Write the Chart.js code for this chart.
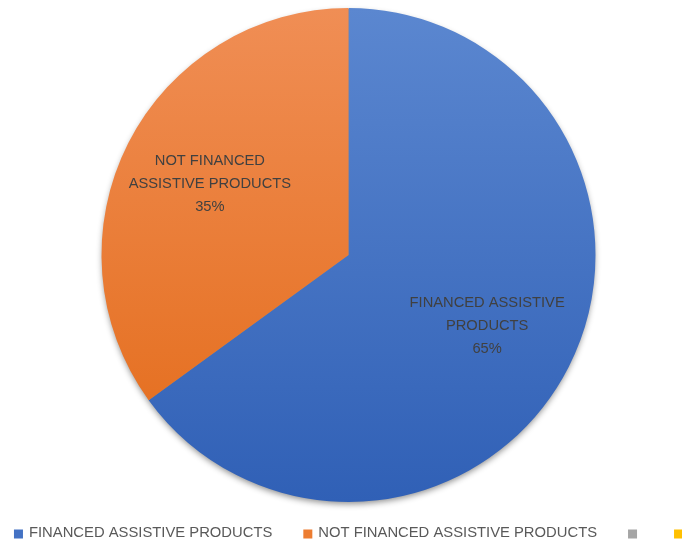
<!DOCTYPE html>
<html>
<head>
<meta charset="utf-8">
<script src="https://cdn.jsdelivr.net/npm/chart.js@4.4.1/dist/chart.umd.min.js"></script>
<style>
    html, body { margin: 0; padding: 0; background: #fff; }
    #wrap { width: 682px; height: 543px; }
</style>
</head>
<body>
<div id="wrap"><canvas id="pieChart1"></canvas></div>
<script>
var labels_products = ['FINANCED ASSISTIVE PRODUCTS', 'NOT FINANCED ASSISTIVE PRODUCTS', '', ''];
var data_products = [65, 35, 0, 0];
var slice_labels = [['FINANCED ASSISTIVE', 'PRODUCTS'], ['NOT FINANCED', 'ASSISTIVE PRODUCTS'], [], []];
var colors_top = ['#5b87d0', '#f08e55', '#b0b0b0', '#ffc51a'];
var colors_bottom = ['#3060b6', '#e36a17', '#9a9a9a', '#f5b800'];
var colors_legend = ['#4472c4', '#ed7d31', '#a5a5a5', '#ffc000'];

var fontFamily = "'Liberation Sans', Arial, sans-serif";

function sliceGradient(context) {
    var chart = context.chart;
    var area = chart.chartArea;
    if (!area) return colors_legend[context.dataIndex];
    var g = chart.ctx.createLinearGradient(0, area.top, 0, area.bottom);
    g.addColorStop(0, colors_top[context.dataIndex]);
    g.addColorStop(1, colors_bottom[context.dataIndex]);
    return g;
}

// soft drop shadow under the whole pie
var pieShadow = {
    id: 'pieShadow',
    beforeDatasetsDraw: function (chart) {
        var arc = chart.getDatasetMeta(0).data[0];
        if (!arc) return;
        var ctx = chart.ctx;
        ctx.save();
        ctx.shadowColor = 'rgba(0,0,0,0.45)';
        ctx.shadowBlur = 6;
        ctx.shadowOffsetY = 3;
        ctx.beginPath();
        ctx.arc(arc.x, arc.y, arc.outerRadius - 1, 0, Math.PI * 2);
        ctx.fillStyle = '#888';
        ctx.fill();
        ctx.restore();
    }
};

// category name + percentage inside each slice
var sliceText = {
    id: 'sliceText',
    afterDatasetsDraw: function (chart) {
        var ctx = chart.ctx;
        var meta = chart.getDatasetMeta(0);
        var sum = data_products.reduce((a, b) => a + b, 0);
        ctx.save();
        ctx.font = '14.7px ' + fontFamily;
        ctx.fillStyle = '#404040';
        ctx.textAlign = 'center';
        ctx.textBaseline = 'middle';
        meta.data.forEach(function (arc, i) {
            if (!data_products[i]) return;
            var mid = (arc.startAngle + arc.endAngle) / 2;
            var r = arc.outerRadius * 0.63;
            var x = arc.x + Math.cos(mid) * r;
            var y = arc.y + Math.sin(mid) * r;
            var lines = slice_labels[i].concat([Math.round(data_products[i] * 100 / sum) + '%']);
            var lh = 23;
            lines.forEach(function (t, k) {
                ctx.fillText(t, x, y + (k - (lines.length - 1) / 2) * lh);
            });
        });
        ctx.restore();
    }
};

// one-row legend along the bottom (built-in one wraps at this width)
var bottomLegend = {
    id: 'bottomLegend',
    afterDraw: function (chart) {
        var ctx = chart.ctx;
        var area = chart.chartArea;
        var box = 9, gap = 6, spacing = 31;
        ctx.save();
        ctx.font = '14.8px ' + fontFamily;
        ctx.textBaseline = 'middle';
        var widths = labels_products.map(t => box + gap + ctx.measureText(t).width);
        var total = widths.reduce((a, b) => a + b, 0) + spacing * (widths.length - 1);
        var x = (area.left + area.right) / 2 - total / 2 + 3;
        var y = 533;
        labels_products.forEach(function (t, i) {
            ctx.fillStyle = colors_legend[i];
            ctx.fillRect(x, y - box / 2 + 1, box, box);
            ctx.fillStyle = '#595959';
            ctx.fillText(t, x + box + gap, y);
            x += widths[i] + spacing;
        });
        ctx.restore();
    }
};

var pieChartCanvas = document.getElementById('pieChart1').getContext('2d');

new Chart(pieChartCanvas, {
    type: 'pie',
    data: {
        labels: labels_products,
        datasets: [{
            data: data_products,
            backgroundColor: sliceGradient,
            borderWidth: 0
        }]
    },
    options: {
        responsive: true,
        maintainAspectRatio: false,
        animation: false,
        layout: { padding: { top: 8, bottom: 41, left: 15, right: 0 } },
        plugins: {
            tooltip: { enabled: false },
            legend: { display: false }
        }
    },
    plugins: [pieShadow, sliceText, bottomLegend]
});
</script>
</body>
</html>
